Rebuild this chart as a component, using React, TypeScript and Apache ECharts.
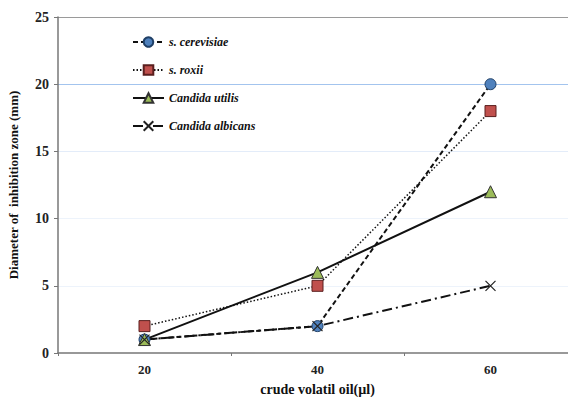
import React, { useEffect, useRef } from "react";
import * as echarts from "echarts";

const doses = ["20", "40", "60"];
const cerevisiae = [1, 2, 20];
const roxii = [2, 5, 18];
const utilis = [1, 6, 12];
const albicans = [1, 2, 5];
const seriesNames = ["s. cerevisiae", "s. roxii", "Candida utilis", "Candida albicans"];

const serif = "Times New Roman, serif";

export default function App() {
  const ref = useRef<HTMLDivElement>(null);

  useEffect(() => {
    if (!ref.current) return;
    const chart = echarts.init(ref.current, undefined, { renderer: "svg" });
    const crossPath = "path://M0,0L10,10M10,0L0,10";
    chart.setOption({
      animation: false,
      backgroundColor: "#ffffff",
      textStyle: { fontFamily: serif },
      grid: {
        left: 58,
        top: 17,
        width: 519,
        height: 336,
        containLabel: false,
        outerBoundsMode: "none",
      },
      legend: {
        orient: "vertical",
        left: 127,
        top: 31,
        itemGap: 16,
        itemWidth: 31,
        itemHeight: 12,
        data: seriesNames,
        textStyle: {
          fontFamily: serif,
          fontStyle: "italic",
          fontWeight: "bold",
          fontSize: 12,
          color: "#111",
        },
      },
      xAxis: {
        type: "category",
        data: doses,
        boundaryGap: true,
        name: "crude volatil oil(\u00b5l)",
        nameLocation: "middle",
        nameGap: 29,
        nameTextStyle: { fontFamily: serif, fontWeight: "bold", fontSize: 14, color: "#111" },
        axisLine: { lineStyle: { color: "#777", width: 1.5 } },
        axisTick: { show: true, length: 3, lineStyle: { color: "#777" } },
        axisLabel: { fontFamily: serif, fontWeight: "bold", fontSize: 13, color: "#222", margin: 10 },
        splitLine: { show: false },
      },
      yAxis: {
        type: "value",
        min: 0,
        max: 25,
        interval: 5,
        name: "Diameter of  inhibition zone (mm)",
        nameLocation: "middle",
        nameGap: 38,
        nameRotate: 90,
        nameTextStyle: { fontFamily: serif, fontWeight: "bold", fontSize: 13, color: "#111" },
        axisLine: { show: true, lineStyle: { color: "#777", width: 1.5 } },
        axisTick: { show: true, length: 4, lineStyle: { color: "#777" } },
        axisLabel: { fontFamily: serif, fontWeight: "bold", fontSize: 14, color: "#222", margin: 9 },
        splitLine: {
          show: true,
          lineStyle: {
            color: ["rgba(0,0,0,0)", "#edf3fb", "#edf3fb", "#e3ecf9", "#a3c4ee", "#9a9a9a"],
            width: 1.2,
          },
        },
      },
      series: [
        {
          name: seriesNames[0],
          type: "line",
          data: cerevisiae,
          symbol: "circle",
          symbolSize: 11,
          lineStyle: { color: "#111", width: 2, type: [5, 3] },
          itemStyle: { color: "#4f81bd", borderColor: "#1f3f66", borderWidth: 1 },
        },
        {
          name: seriesNames[1],
          type: "line",
          data: roxii,
          symbol: "rect",
          symbolSize: 11,
          lineStyle: { color: "#111", width: 1.5, type: [1.5, 2] },
          itemStyle: { color: "#c0504d", borderColor: "#5a1f1e", borderWidth: 1 },
        },
        {
          name: seriesNames[2],
          type: "line",
          data: utilis,
          symbol: "triangle",
          symbolSize: 12,
          lineStyle: { color: "#111", width: 2 },
          itemStyle: { color: "#9bbb59", borderColor: "#333", borderWidth: 1 },
        },
        {
          name: seriesNames[3],
          type: "line",
          data: albicans,
          symbol: crossPath,
          symbolSize: 10,
          lineStyle: { color: "#111", width: 2, type: [10, 4, 2, 4] },
          itemStyle: { color: "rgba(0,0,0,0)", borderColor: "#222", borderWidth: 1.2 },
        },
      ],
    });
    return () => chart.dispose();
  }, []);

  return (
    <div
      ref={ref}
      style={{ position: "fixed", left: 0, top: 0, width: 568, height: 397, background: "#fff" }}
    />
  );
}
